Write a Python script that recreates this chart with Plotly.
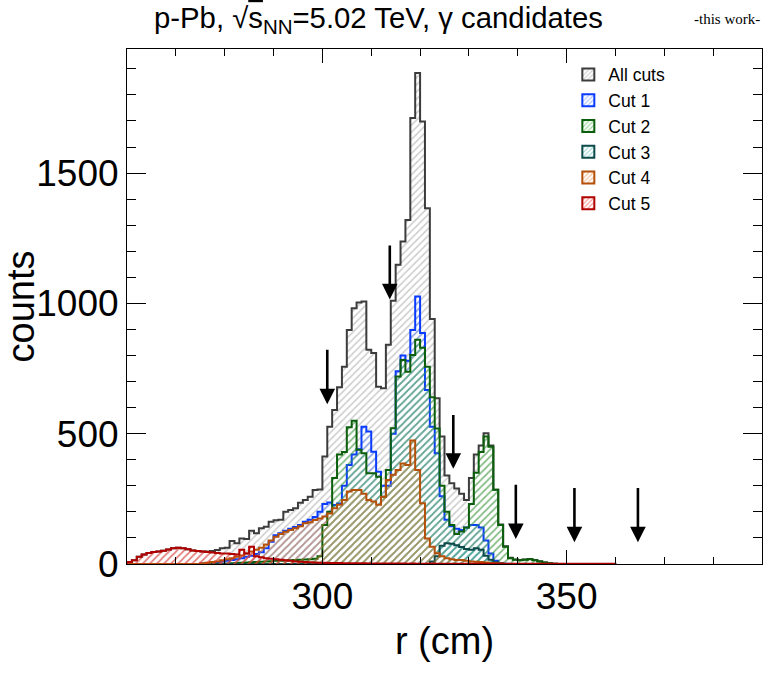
import plotly.graph_objects as go

# ---------------- data (bin width 1 cm, first bin starts at 260 cm) ----------------
BIN_LO = 260
BIN_W = 1

series_names = ["All cuts", "Cut 1", "Cut 2", "Cut 3", "Cut 4", "Cut 5"]

all_cuts = [8, 14, 28, 36, 42, 46, 48, 51, 56, 60, 62, 60, 57, 52, 50, 48,
            48, 50, 54, 60, 62, 88, 80, 98, 96, 128, 118, 137, 143, 162,
            168, 170, 200, 207, 214, 235, 246, 258, 284, 286,
            412, 527, 591, 678, 757, 898, 981, 1003, 1007, 822,
            810, 680, 674, 841, 1010, 1148, 1237, 1320, 1711, 1884,
            1698, 1365, 940, 636, 489, 340, 310, 290, 270, 246,
            330, 420, 455, 502, 455, 285, 152, 68, 24, 17,
            15, 17, 19, 15, 11, 6, 3, 1]

cut1 = [0] * 15 + [2, 4, 6, 8, 10,
        12, 15, 18, 22, 28, 32, 38, 45, 60, 85,
        110, 118, 128, 135, 142, 150, 162, 170, 180, 200,
        230, 236, 226, 232, 300, 380, 420, 440, 527, 508,
        431, 354, 300, 300, 500, 740, 800, 780, 898, 1026,
        886, 668, 527, 425, 260, 170, 145, 135, 130, 140,
        150, 150, 140, 90, 40, 12, 4, 1]

cut2 = [0] * 20 + [2, 3, 4, 5, 6, 7, 8, 9, 10, 11,
        12, 12, 13, 14, 15, 16, 17, 18, 20, 30,
        150, 200, 330, 420, 430, 525, 550, 438, 425, 348,
        348, 335, 258, 361, 521, 719, 783, 738, 802, 860,
        830, 757, 640, 520, 300, 200, 150, 115, 125, 140,
        230, 350, 430, 489, 450, 285, 150, 66, 22, 16,
        14, 16, 18, 14, 10, 6, 3, 1]

cut3 = [0] * 62 + [10, 30, 70, 80, 78, 72, 65, 58,
        55, 60, 55, 32, 16, 7, 3]

cut4 = [0] * 15 + [3, 5, 8, 10, 14,
        18, 22, 28, 33, 40, 48, 55, 62, 75, 90,
        105, 115, 124, 130, 137, 145, 156, 160, 169, 175,
        182, 194, 214, 227, 246, 278, 284, 284, 270, 246,
        240, 227, 258, 322, 342, 361, 386, 380, 474, 361,
        233, 98, 66, 41, 30, 22, 18, 15, 15, 12,
        10, 9, 8, 6, 4, 3, 2]

cut5 = [8, 14, 28, 36, 42, 46, 48, 51, 56, 60,
        62, 60, 57, 52, 50, 48, 46, 44, 42, 40,
        40, 38, 36, 55, 40, 66, 30, 26, 22, 20,
        18, 16, 14, 12, 10, 9, 8, 7, 6, 5,
        5, 4, 4, 4, 3, 3, 3, 3, 3, 2,
        2, 2, 2, 2, 2, 2, 2, 1, 2, 1,
        1, 1, 2, 1, 1, 1, 1, 1, 1, 1,
        1, 1, 1, 1, 1, 1, 1, 1, 1, 1,
        1, 1, 1, 1, 1, 1, 1, 1, 1, 1,
        1, 1, 1, 1, 1, 1, 1, 1, 1, 1]

series_values = [all_cuts, cut1, cut2, cut3, cut4, cut5]

# arrows marking radial positions (x, tip y, tail y)
arrow_x = [301.0, 313.8, 326.8, 339.6, 351.6, 364.6]
arrow_tip = [613, 1015, 365, 96, 83, 83]
arrow_tail = [828, 1228, 577, 310, 297, 297]

x_tickvals = [300, 350]
y_tickvals = [0, 500, 1000, 1500]

# ---------------- styles ----------------
line_colors = ["#3c3c3c", "#0a3cff", "#0b5e0b", "#0d4a4a", "#b4500a", "#b00000"]
hatch_colors = ["#9a9a9a", "#4d7dff", "#2ea82e", "#38a8a8", "#e8832a", "#ff2020"]
FONT = "Liberation Sans, Arial, Helvetica, sans-serif"

fig = go.Figure()


def step_xy(vals):
    edges = [BIN_LO + BIN_W * i for i in range(len(vals) + 1)]
    xs = [edges[0]] + edges[:-1] + [edges[-1], edges[-1]]
    ys = [0] + list(vals) + [vals[-1], 0]
    return xs, ys


for name, vals, lc, hc in zip(series_names, series_values, line_colors, hatch_colors):
    xs, ys = step_xy(vals)
    fig.add_trace(go.Scatter(
        x=xs, y=ys, mode="lines", name=name,
        line=dict(shape="hv", color=lc, width=2),
        fill="tozeroy", fillcolor="rgba(0,0,0,0)",
        fillpattern=dict(shape="/", fgcolor=hc, bgcolor="rgba(0,0,0,0)",
                         size=5, solidity=0.3, fillmode="overlay"),
        showlegend=False, hoverinfo="skip"))

# legend entries (box style like ROOT)
for name, lc, hc in zip(series_names, line_colors, hatch_colors):
    fig.add_trace(go.Bar(
        x=[None], y=[None], name=name,
        marker=dict(color="rgba(0,0,0,0)", line=dict(color=lc, width=2),
                    pattern=dict(shape="/", fgcolor=hc, size=4, solidity=0.35,
                                 fillmode="overlay")),
        showlegend=True))

annotations = []
for ax_, tip, tail in zip(arrow_x, arrow_tip, arrow_tail):
    annotations.append(dict(
        x=ax_, y=tip, ax=ax_, ay=tail, xref="x", yref="y", axref="x", ayref="y",
        text="", showarrow=True, arrowhead=2, arrowsize=1.2, arrowwidth=2.6,
        arrowcolor="black", standoff=0, startstandoff=0))

annotations.append(dict(
    text="-this work-", xref="paper", yref="paper", x=1.0, y=1.058,
    xanchor="right", yanchor="middle", showarrow=False,
    font=dict(family="Liberation Serif, Times New Roman, serif", size=15, color="black")))

fig.update_layout(
    width=765, height=673,
    margin=dict(l=127, r=3, t=49, b=109),
    paper_bgcolor="white", plot_bgcolor="white",
    font=dict(family=FONT, color="black"),
    title=dict(text="p-Pb, √<span style='text-decoration:overline'>s</span><sub>NN</sub>=5.02 TeV, γ candidates",
               x=154 / 765, xanchor="left", xref="container",
               y=1 - 18 / 673, yanchor="middle", yref="container",
               font=dict(size=29.3, family=FONT, color="black")),
    showlegend=True,
    legend=dict(x=0.695, y=0.985, xanchor="left", yanchor="top",
                bgcolor="rgba(0,0,0,0)", font=dict(size=17.5, family=FONT),
                tracegroupgap=0, itemwidth=30, traceorder="normal"),
    annotations=annotations,
)

fig.update_xaxes(
    range=[260, 390], showgrid=False, zeroline=False,
    showline=True, linecolor="black", linewidth=1, mirror="ticks",
    ticks="inside", ticklen=14, tickwidth=1, tickcolor="black",
    tickvals=x_tickvals, ticktext=[str(v) for v in x_tickvals],
    minor=dict(dtick=10, tick0=0, ticklen=7, ticks="inside", tickcolor="black", tickwidth=1),
    tickfont=dict(size=37, family=FONT),
    title=dict(text="r (cm)", font=dict(size=38, family=FONT), standoff=10),
    automargin=False)

fig.update_yaxes(
    range=[0, 1976], showgrid=False, zeroline=False,
    showline=True, linecolor="black", linewidth=1, mirror="ticks",
    ticks="inside", ticklen=19, tickwidth=1, tickcolor="black",
    tickvals=y_tickvals, ticktext=[str(v) for v in y_tickvals],
    minor=dict(dtick=100, tick0=0, ticklen=9, ticks="inside", tickcolor="black", tickwidth=1),
    tickfont=dict(size=37, family=FONT),
    title=dict(text="counts", font=dict(size=38, family=FONT), standoff=18),
    automargin=False)

fig.write_html("out.html")
